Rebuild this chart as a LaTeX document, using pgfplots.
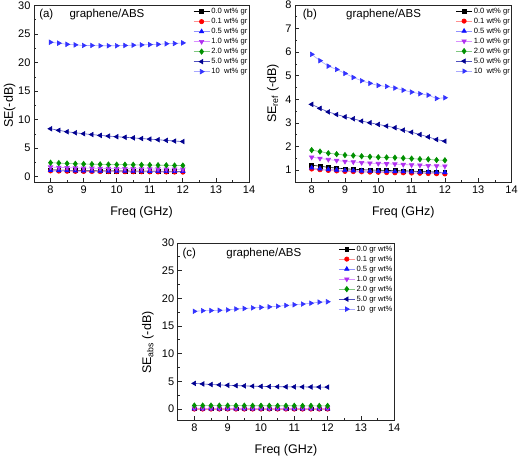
\documentclass[border=0pt]{standalone}
\usepackage{pgfplots}
\pgfplotsset{compat=1.18}
\usepackage{pgfplotstable}
\usepackage{fontspec}
\setmainfont{Liberation Sans}

\definecolor{m0}{HTML}{000000}\definecolor{l0}{HTML}{000000}
\definecolor{m1}{HTML}{FF0000}\definecolor{l1}{HTML}{FF9090}
\definecolor{m2}{HTML}{1010FF}\definecolor{l2}{HTML}{9090FF}
\definecolor{m3}{HTML}{B030F0}\definecolor{l3}{HTML}{D890FF}
\definecolor{m4}{HTML}{009000}\definecolor{l4}{HTML}{80C880}
\definecolor{m5}{HTML}{000090}\definecolor{l5}{HTML}{5050C0}
\definecolor{m6}{HTML}{3333FF}\definecolor{l6}{HTML}{A8A8FF}

\pgfplotstableread{
f s0 s01 s05 s10 s20 s50 s100
8.00 1.23 1.03 1.15 1.70 2.47 8.41 23.56
8.25 1.19 1.00 1.11 1.65 2.40 8.14 23.40
8.50 1.14 0.97 1.08 1.60 2.33 7.89 23.20
8.75 1.11 0.95 1.06 1.56 2.28 7.71 23.10
9.00 1.08 0.93 1.04 1.52 2.24 7.54 23.00
9.25 1.06 0.92 1.03 1.50 2.21 7.40 23.00
9.50 1.04 0.91 1.02 1.47 2.18 7.25 22.95
9.75 1.03 0.90 1.01 1.45 2.15 7.13 22.95
10.00 1.02 0.89 1.00 1.43 2.13 7.02 22.95
10.25 1.01 0.88 1.00 1.42 2.12 6.92 23.00
10.50 1.00 0.87 0.99 1.41 2.10 6.82 23.05
10.75 0.99 0.87 0.99 1.39 2.08 6.70 23.10
11.00 0.98 0.86 0.98 1.37 2.06 6.60 23.15
11.25 0.96 0.85 0.97 1.36 2.03 6.49 23.20
11.50 0.95 0.84 0.97 1.34 2.02 6.38 23.30
11.75 0.94 0.83 0.96 1.33 1.98 6.26 23.35
12.00 0.92 0.82 0.95 1.32 1.97 6.18 23.45
}\dataA

\pgfplotstableread{
f s0 s01 s05 s10 s20 s50 s100
8.00 1.21 1.05 1.10 1.55 1.85 3.79 5.91
8.25 1.17 1.02 1.06 1.50 1.79 3.62 5.64
8.50 1.12 0.99 1.03 1.45 1.72 3.47 5.41
8.75 1.09 0.97 1.01 1.41 1.68 3.36 5.27
9.00 1.06 0.95 0.99 1.37 1.64 3.26 5.10
9.25 1.04 0.94 0.98 1.35 1.62 3.18 4.93
9.50 1.02 0.93 0.97 1.32 1.59 3.08 4.79
9.75 1.01 0.92 0.96 1.30 1.57 3.01 4.68
10.00 1.00 0.91 0.95 1.28 1.55 2.94 4.59
10.25 0.99 0.90 0.95 1.27 1.54 2.87 4.55
10.50 0.98 0.89 0.94 1.26 1.53 2.80 4.48
10.75 0.97 0.89 0.94 1.24 1.51 2.70 4.39
11.00 0.96 0.88 0.93 1.22 1.49 2.61 4.31
11.25 0.94 0.87 0.92 1.21 1.47 2.51 4.24
11.50 0.93 0.86 0.92 1.19 1.46 2.41 4.18
11.75 0.92 0.85 0.91 1.18 1.43 2.30 4.04
12.00 0.90 0.84 0.90 1.17 1.42 2.23 4.07
}\dataB

\pgfplotstableread{
f s0 s01 s05 s10 s20 s50 s100
8.00 0.02 -0.02 0.05 0.15 0.62 4.62 17.65
8.25 0.02 -0.02 0.05 0.15 0.61 4.52 17.76
8.50 0.02 -0.02 0.05 0.15 0.61 4.42 17.79
8.75 0.02 -0.02 0.05 0.15 0.60 4.35 17.83
9.00 0.02 -0.02 0.05 0.15 0.60 4.28 17.90
9.25 0.02 -0.02 0.05 0.15 0.59 4.22 18.07
9.50 0.02 -0.02 0.05 0.15 0.59 4.17 18.16
9.75 0.02 -0.02 0.05 0.15 0.58 4.12 18.27
10.00 0.02 -0.02 0.05 0.15 0.58 4.08 18.36
10.25 0.02 -0.02 0.05 0.15 0.58 4.05 18.45
10.50 0.02 -0.02 0.05 0.15 0.57 4.02 18.57
10.75 0.02 -0.02 0.05 0.15 0.57 4.00 18.71
11.00 0.02 -0.02 0.05 0.15 0.57 3.99 18.84
11.25 0.02 -0.02 0.05 0.15 0.56 3.98 18.96
11.50 0.02 -0.02 0.05 0.15 0.56 3.97 19.12
11.75 0.02 -0.02 0.05 0.15 0.55 3.96 19.31
12.00 0.02 -0.02 0.05 0.15 0.55 3.95 19.38
}\dataC

\pgfplotsset{
  ser0/.style={draw=l0, line width=0.6pt, mark=square*, mark size=1.9pt, mark options={draw=m0, fill=m0}},
  ser1/.style={draw=l1, line width=0.6pt, mark=*, mark size=2.2pt, mark options={draw=m1, fill=m1}},
  ser2/.style={draw=l2, line width=0.6pt, mark=triangle*, mark size=2.6pt, mark options={draw=m2, fill=m2}},
  ser3/.style={draw=l3, line width=0.6pt, mark=triangle*, mark size=2.6pt, mark options={draw=m3, fill=m3, rotate=180}},
  ser4/.style={draw=l4, line width=0.6pt, mark=diamond*, mark size=2.7pt, mark options={draw=m4, fill=m4}},
  ser5/.style={draw=l5, line width=0.6pt, mark=triangle*, mark size=2.6pt, mark options={draw=m5, fill=m5, rotate=90}},
  ser6/.style={draw=l6, line width=0.6pt, mark=triangle*, mark size=2.6pt, mark options={draw=m6, fill=m6, rotate=-90}},
  myax/.style={
    scale only axis, height=177pt,
    xmin=7.5, xmax=14, xtick={8,9,...,14}, minor x tick num=1, minor y tick num=1,
    tick align=inside, tick pos=left, major tick length=4pt, minor tick length=2pt,
    axis line style={line width=0.8pt, black!85},
    every tick/.style={line width=0.7pt, black!85},
    tick label style={font=\fontsize{11}{12}\selectfont},
    /pgf/number format/assume math mode=true,
    xlabel={Freq (GHz)},
    xlabel style={at={(rel axis cs:0.5,0)}, anchor=base, yshift=-33.5pt, font=\fontsize{12.5}{14}\selectfont},
    ylabel style={font=\fontsize{12.5}{14}\selectfont},
    legend style={at={(rel axis cs:1,1)}, anchor=north east, draw=none, fill=none,
      font=\fontsize{7.6}{8}\selectfont, row sep=0.2pt, inner sep=1pt,
      nodes={inner sep=1.5pt}},
    legend cell align=left,
    legend image code/.code={\draw[mark repeat=2,mark phase=2,line width=0.6pt] plot coordinates {(0pt,0pt) (8pt,0pt) (16pt,0pt)};},
    every axis legend/.append style={xshift=1pt, yshift=0pt},
  },
}

\begin{document}
\begin{tikzpicture}
\useasboundingbox (0pt,0pt) rectangle (521pt,456pt);

% (a)
\begin{axis}[myax, width=215pt, at={(34pt,450.5pt)}, anchor=north west,
  ymin=-1, ymax=30, ytick={0,5,...,30},
  ylabel={SE(-dB)},
  ylabel style={at={(rel axis cs:0,0.434)}, anchor=base, yshift=21pt}]
\addplot[ser0] table[x=f,y=s0]{\dataA}; \addlegendentry{0.0 wt\% gr}
\addplot[ser1] table[x=f,y=s01]{\dataA}; \addlegendentry{0.1 wt\% gr}
\addplot[ser2] table[x=f,y=s05]{\dataA}; \addlegendentry{0.5 wt\% gr}
\addplot[ser3] table[x=f,y=s10]{\dataA}; \addlegendentry{1.0 wt\% gr}
\addplot[ser4] table[x=f,y=s20]{\dataA}; \addlegendentry{2.0 wt\% gr}
\addplot[ser5] table[x=f,y=s50]{\dataA}; \addlegendentry{5.0 wt\% gr}
\addplot[ser6] table[x=f,y=s100]{\dataA}; \addlegendentry{10\ \ wt\% gr}
\node[anchor=base west, font=\fontsize{11.5}{13}\selectfont, yshift=-12pt] at (rel axis cs:0.008,1) {(a)};
\node[anchor=base west, font=\fontsize{11.5}{13}\selectfont, yshift=-12pt] at (rel axis cs:0.149,1) {graphene/ABS};
\end{axis}

% (b)
\begin{axis}[myax, width=216.5pt, at={(295pt,451pt)}, anchor=north west,
  ymin=0.5, ymax=8, ytick={1,2,...,8},
  ylabel={SE\textsubscript{ref} (-dB)},
  ylabel style={at={(rel axis cs:0,0.5)}, anchor=base, yshift=19pt}]
\addplot[ser0] table[x=f,y=s0]{\dataB}; \addlegendentry{0.0 wt\% gr}
\addplot[ser1] table[x=f,y=s01]{\dataB}; \addlegendentry{0.1 wt\% gr}
\addplot[ser2] table[x=f,y=s05]{\dataB}; \addlegendentry{0.5 wt\% gr}
\addplot[ser3] table[x=f,y=s10]{\dataB}; \addlegendentry{1.0 wt\% gr}
\addplot[ser4] table[x=f,y=s20]{\dataB}; \addlegendentry{2.0 wt\% gr}
\addplot[ser5] table[x=f,y=s50]{\dataB}; \addlegendentry{5.0 wt\% gr}
\addplot[ser6] table[x=f,y=s100]{\dataB}; \addlegendentry{10\ \ wt\% gr}
\node[anchor=base west, font=\fontsize{11.5}{13}\selectfont, yshift=-12.3pt] at (rel axis cs:0.02,1) {(b)};
\node[anchor=base west, font=\fontsize{11.5}{13}\selectfont, yshift=-12.3pt] at (rel axis cs:0.22,1) {graphene/ABS};
\end{axis}

% (c)
\begin{axis}[myax, width=216.5pt, at={(177.7pt,213pt)}, anchor=north west,
  ymin=-2, ymax=30, ytick={0,5,...,30},
  ylabel={SE\textsubscript{abs} (-dB)},
  ylabel style={at={(rel axis cs:0,0.437)}, anchor=base, yshift=26.5pt}]
\addplot[ser0] table[x=f,y=s0]{\dataC}; \addlegendentry{0.0 gr wt\%}
\addplot[ser1] table[x=f,y=s01]{\dataC}; \addlegendentry{0.1 gr wt\%}
\addplot[ser2] table[x=f,y=s05]{\dataC}; \addlegendentry{0.5 gr wt\%}
\addplot[ser3] table[x=f,y=s10]{\dataC}; \addlegendentry{1.0 gr wt\%}
\addplot[ser4] table[x=f,y=s20]{\dataC}; \addlegendentry{2.0 gr wt\%}
\addplot[ser5] table[x=f,y=s50]{\dataC}; \addlegendentry{5.0 gr wt\%}
\addplot[ser6] table[x=f,y=s100]{\dataC}; \addlegendentry{10\ \ gr wt\%}
\node[anchor=base west, font=\fontsize{11.5}{13}\selectfont, yshift=-13.7pt] at (rel axis cs:0.006,1) {(c)};
\node[anchor=base west, font=\fontsize{11.5}{13}\selectfont, yshift=-13.7pt] at (rel axis cs:0.209,1) {graphene/ABS};
\end{axis}
\end{tikzpicture}
\end{document}
